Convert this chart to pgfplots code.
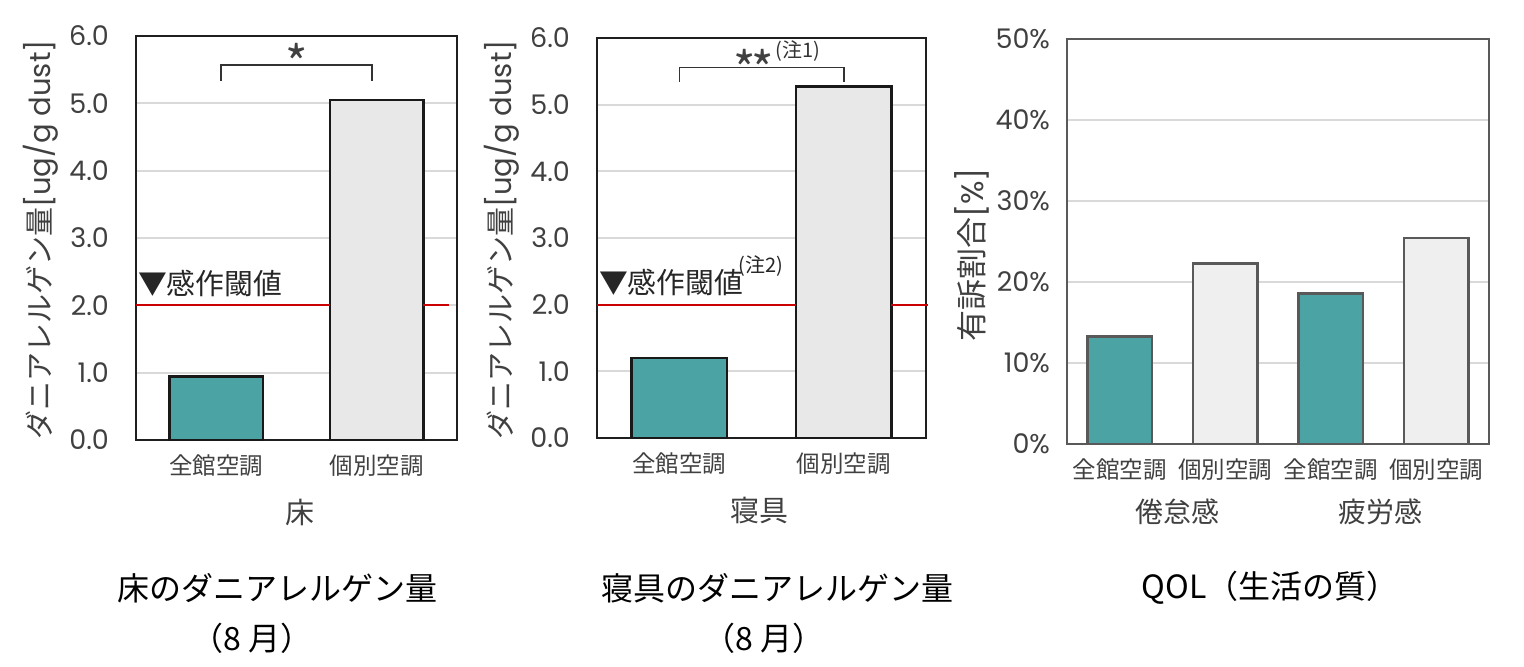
\documentclass[border=0pt]{standalone}
\usepackage{fontspec}
\setmainfont{Noto Sans CJK JP}
\newfontfamily\lat{Poppins}
\usepackage{pgfplots}
\pgfplotsset{compat=1.18}
\definecolor{barteal}{HTML}{4BA3A3}
\definecolor{barlight}{HTML}{E8E8E8}
\definecolor{gridgray}{HTML}{D9D9D9}
\definecolor{txt}{HTML}{404040}
\definecolor{frame3}{HTML}{595959}
\newcommand{\fs}[1]{\fontsize{#1}{#1}\selectfont}
\pgfplotsset{
  panel/.style={
    scale only axis, anchor=south west, clip=false,
    ymin=0,
    axis line style={line width=1.25pt, draw=black!88},
    ymajorgrids, grid style={gridgray, line width=1pt},
    tick style={draw=none},
    tick label style={text=txt},
    yticklabel style={font=\lat\fs{13.5}, xshift=-10pt},
    xticklabel style={font=\fs{11.75}, yshift=-4pt},
    label style={text=txt, font=\fs{14.5}},
  },
  dust/.style={
    panel, xmin=-0.5, xmax=1.5, ymax=6,
    ytick={0,1,2,3,4,5,6},
    yticklabels={0.0,1.0,2.0,3.0,4.0,5.0,6.0},
    xtick={0,1}, xticklabels={全館空調,個別空調},
    ylabel={ダニアレルゲン量{\lat[ug/g dust]}},
  },
  bar/.style={ybar, bar width=0.58, line width=1.25pt},
  thresh/.style={color=red!80!black, line width=1pt, mark=none},
}
\begin{document}
\begin{tikzpicture}
\useasboundingbox (0,0) rectangle (762pt,333.5pt);

% floor
\begin{axis}[dust, at={(68pt,113.5pt)}, width=160.5pt, height=202pt,
  ylabel style={at={(axis description cs:-0.296,0.495)}, anchor=center},
  xlabel={床}, xlabel style={at={(axis description cs:0.51,-0.18)}, anchor=center}]
  \addplot[bar, fill=barteal, draw=black!90] coordinates {(0,0.94)};
  \addplot[bar, fill=barlight, draw=black!90] coordinates {(1,5.05)};
  \addplot[thresh] coordinates {(-0.5,2) (0.71,2)};
  \addplot[thresh] coordinates {(1.29,2) (1.45,2)};
  \addplot[draw=black!80, line width=0.75pt] coordinates {(0.03,5.33) (0.03,5.57) (0.97,5.57) (0.97,5.33)};
  \node[anchor=north, font=\fs{24}, text=black!75, inner sep=0pt] at (axis cs:0.5,5.9) {*};
  \node[anchor=west, inner sep=0pt, font=\fs{14.4}, text=black!85] at (axis cs:-0.49,2.32) {▼感作閾値};
\end{axis}

% bedding
\begin{axis}[dust, at={(298.5pt,114.5pt)}, width=164.5pt, height=200pt,
  ylabel style={at={(axis description cs:-0.289,0.495)}, anchor=center},
  xlabel={寝具}, xlabel style={at={(axis description cs:0.495,-0.18)}, anchor=center}]
  \addplot[bar, fill=barteal, draw=black!90] coordinates {(0,1.2)};
  \addplot[bar, fill=barlight, draw=black!90] coordinates {(1,5.27)};
  \addplot[thresh] coordinates {(-0.5,2) (0.71,2)};
  \addplot[thresh] coordinates {(1.29,2) (1.51,2)};
  \addplot[draw=black!80, line width=0.75pt] coordinates {(0,5.34) (0,5.56) (1,5.56) (1,5.34)};
  \node[anchor=north east, font=\fs{24}, text=black!75, inner sep=0pt] at (axis cs:0.58,5.83) {*\kern-2pt*};
  \node[anchor=west, font=\fs{10}, text=black!80, inner sep=0pt] at (axis cs:0.585,5.80) {(注1)};
  \node[anchor=west, inner sep=0pt, font=\fs{14.4}, text=black!85] at (axis cs:-0.49,2.34) {▼感作閾値};
  \node[anchor=west, inner sep=0pt, font=\fs{10}, text=black!85] at (axis cs:0.36,2.58) {(注2)};
\end{axis}

% QOL
\begin{axis}[panel, at={(533.5pt,111.5pt)}, width=211pt, height=202.5pt,
  xmin=-0.5, xmax=3.5, ymax=50,
  axis line style={draw=frame3},
  ytick={0,10,20,30,40,50},
  yticklabels={0\%,10\%,20\%,30\%,40\%,50\%},
  yticklabel style={xshift=5pt},
  xtick={0,1,2,3}, xticklabels={全館空調,個別空調,全館空調,個別空調},
  ylabel={有訴割合{\lat[\%]}},
  ylabel style={at={(axis description cs:-0.225,0.467)}, anchor=center, font=\fs{15.5}}]
  \addplot[bar, bar width=0.61, fill=barteal, draw=frame3] coordinates {(0,13.3) (2,18.6)};
  \addplot[bar, bar width=0.61, fill=barlight!70!white, draw=frame3] coordinates {(1,22.3) (3,25.4)};
  \node[font=\fs{14}, text=txt] at (axis cs:0.55,0) [yshift=-34pt] {倦怠感};
  \node[font=\fs{14}, text=txt] at (axis cs:2.47,0) [yshift=-34pt] {疲労感};
\end{axis}

% titles
\node[font=\fs{16}] at (138.5pt,39.5pt) {床のダニアレルゲン量};
\node[font=\fs{16}] at (126pt,14.5pt) {（8 月）};
\node[font=\fs{16}] at (388.5pt,39.5pt) {寝具のダニアレルゲン量};
\node[font=\fs{16}] at (382pt,14.5pt) {（8 月）};
\node[font=\fs{16}] at (635pt,39.5pt) {QOL（生活の質）};
\end{tikzpicture}
\end{document}
